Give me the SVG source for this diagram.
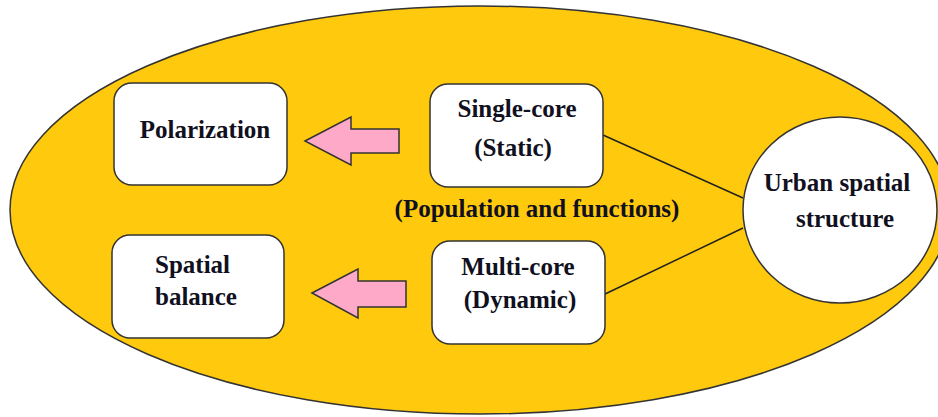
<svg xmlns="http://www.w3.org/2000/svg" width="938" height="417" viewBox="0 0 938 417">
<style>
.bg{fill:#FFC90E;stroke:#333;stroke-width:1.5}
.box{fill:#fff;stroke:#333;stroke-width:1.5}
.arr{fill:#FFA9C9;stroke:#333;stroke-width:1.5;stroke-linejoin:miter}
.ln{stroke:#222;stroke-width:1.5;fill:none}
</style>
<rect width="938" height="417" fill="#fff"/>
<ellipse id="background" class="bg" cx="480" cy="210" rx="470" ry="204"/>
<g id="connectors">
<line class="ln" x1="603" y1="135" x2="743" y2="198"/>
<line class="ln" x1="603" y1="295" x2="743" y2="228"/>
<polygon class="arr" points="305,141 351,117 351,129 399,129 399,153 351,153 351,165"/>
<polygon class="arr" points="312,293 358,269 358,281 406,281 406,307 358,307 358,318"/>
</g>
<g font-family="Liberation Serif, Times New Roman, serif" font-weight="bold" font-size="25" fill="#101020" text-anchor="middle">
<g id="polarization">
<rect class="box" x="114" y="83" width="173" height="102" rx="18"/>
<text x="205" y="138">Polarization</text>
</g>
<g id="spatial-balance">
<rect class="box" x="112" y="235" width="172" height="103" rx="18"/>
<text x="155" y="273" text-anchor="start">Spatial</text>
<text x="155" y="305" text-anchor="start">balance</text>
</g>
<g id="single-core">
<rect class="box" x="430" y="84" width="173" height="103" rx="18"/>
<text x="517" y="117">Single-core</text>
<text x="513" y="156">(Static)</text>
</g>
<g id="label-population">
<text x="537" y="217">(Population and functions)</text>
</g>
<g id="multi-core">
<rect class="box" x="432" y="241" width="173" height="103" rx="18"/>
<text x="518" y="275">Multi-core</text>
<text x="520" y="308">(Dynamic)</text>
</g>
<g id="urban-spatial-structure">
<ellipse class="box" cx="840" cy="210" rx="97" ry="93"/>
<text x="837" y="191">Urban spatial</text>
<text x="845" y="227">structure</text>
</g>
</g>
</svg>
